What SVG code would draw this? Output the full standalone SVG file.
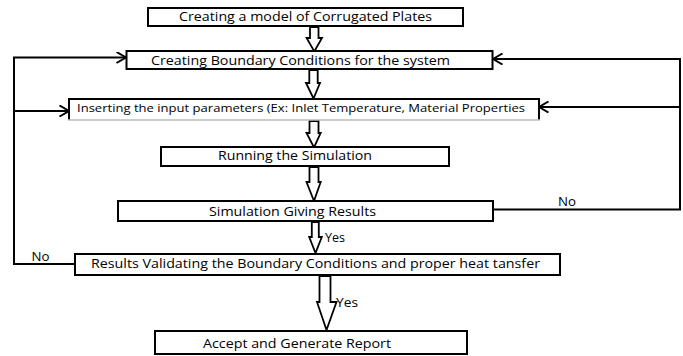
<svg xmlns="http://www.w3.org/2000/svg" width="683" height="356" viewBox="0 0 683 356">
<style>
.box{fill:#fff;stroke:#000;stroke-width:2}
.t{font-family:"Open Sans","Noto Sans","Liberation Sans",sans-serif;font-size:12px;fill:#000}
.ts{font-size:11px}
.conn{fill:none;stroke:#000;stroke-width:2}
.blk{fill:#fff;stroke:#000;stroke-width:1.8;stroke-linejoin:miter}
</style>
<defs>
<marker id="chev" viewBox="0 0 12 12" markerWidth="12" markerHeight="12" refX="10.5" refY="6" orient="auto" markerUnits="userSpaceOnUse">
<path d="M1,0.5 L10.5,6 L1,11.5" fill="none" stroke="#000" stroke-width="2"/>
</marker>
</defs>
<rect width="683" height="356" fill="#fff"/>
<g id="connectors">
<path class="conn" d="M75,264 H14 V57.5 H126" marker-end="url(#chev)"/>
<path class="conn" d="M14,111 H69" marker-end="url(#chev)"/>
<path class="conn" d="M493,209.5 H680 V59 H493" marker-end="url(#chev)"/>
<path class="conn" d="M680,107 H539" marker-end="url(#chev)"/>
<path class="blk" d="M310,27 H318.5 V38 H322 L314.3,51.5 L306.6,38 H310 Z"/>
<path class="blk" d="M309.3,70 H317.7 V83 H320 L313.5,98.5 L306,83 H309.3 Z"/>
<path class="blk" d="M309.5,121 H318.5 V133 H320.7 L314,147.5 L306.5,133 H309.5 Z"/>
<path class="blk" d="M309.5,167 H318.5 V182 H320.7 L314,201 L306.5,182 H309.5 Z"/>
<path class="blk" d="M311.8,222 H318.8 V237 H321.8 L315.5,253 L309.2,237 H311.8 Z"/>
<path class="blk" d="M319.5,276 H330.5 V302 H336.5 L326.5,330 L317,302 H319.5 Z"/>
<text class="t" x="325" y="241.5" textLength="20" lengthAdjust="spacingAndGlyphs">Yes</text>
<text class="t" x="336" y="307" textLength="22" lengthAdjust="spacingAndGlyphs">Yes</text>
<text class="t" x="558" y="205.5" textLength="18" lengthAdjust="spacingAndGlyphs">No</text>
<text class="t" x="31.5" y="260.5" textLength="18" lengthAdjust="spacingAndGlyphs">No</text>
</g>
<g id="n1">
<rect class="box" x="148" y="8" width="315" height="18"/>
<text class="t" x="179" y="21" textLength="253" lengthAdjust="spacingAndGlyphs">Creating a model of Corrugated Plates</text>
</g>
<g id="n2">
<rect class="box" x="126.5" y="51" width="366" height="18"/>
<text class="t" x="151" y="65" textLength="299" lengthAdjust="spacingAndGlyphs">Creating Boundary Conditions for the system</text>
</g>
<g id="n3">
<path d="M69,120 V99 H539 V120" fill="#fff" stroke="#000" stroke-width="2"/>
<line x1="68" y1="120" x2="540" y2="120" stroke="#bbb" stroke-width="1.5"/>
<text class="t ts" x="77" y="112" textLength="448" lengthAdjust="spacingAndGlyphs">Inserting the input parameters (Ex: Inlet Temperature, Material Properties</text>
</g>
<g id="n4">
<rect class="box" x="161" y="147" width="288" height="19"/>
<text class="t" x="218" y="160" textLength="154" lengthAdjust="spacingAndGlyphs">Running the Simulation</text>
</g>
<g id="n5">
<rect class="box" x="118" y="201" width="375" height="20"/>
<text class="t" x="209" y="215.5" textLength="167" lengthAdjust="spacingAndGlyphs">Simulation Giving Results</text>
</g>
<g id="n6">
<rect class="box" x="75" y="254" width="485" height="21"/>
<text class="t" x="91" y="267.5" textLength="449" lengthAdjust="spacingAndGlyphs">Results Validating the Boundary Conditions and proper heat tansfer</text>
</g>
<g id="n7">
<rect class="box" x="155" y="331" width="312" height="23"/>
<text class="t" x="203" y="348" textLength="188" lengthAdjust="spacingAndGlyphs">Accept and Generate Report</text>
</g>
</svg>
